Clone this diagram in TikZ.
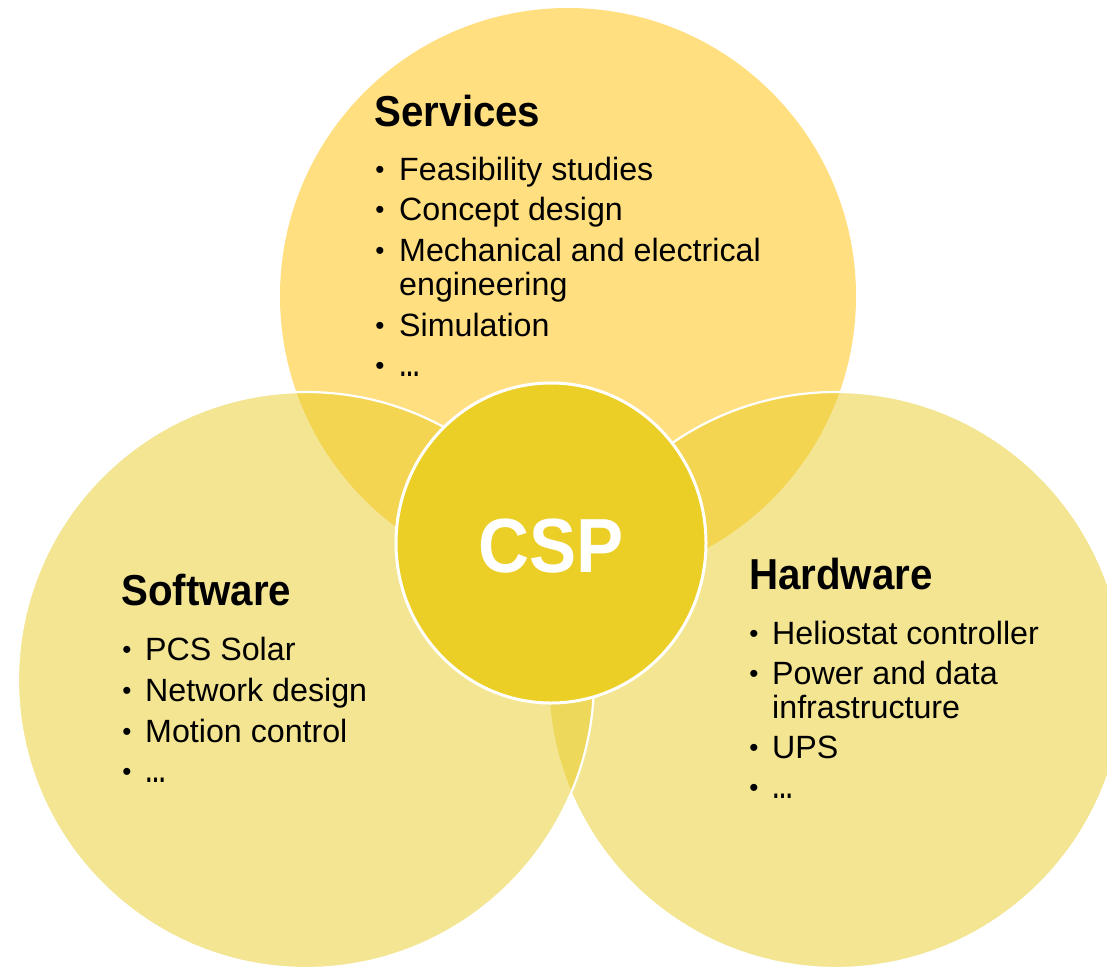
\documentclass[tikz,border=0pt]{standalone}
\usepackage{fontspec}
\setmainfont{Liberation Sans}
\newfontfamily\headfont{Liberation Sans}[FakeStretch=0.93]
\newfontfamily\cspfont{Liberation Sans}[FakeStretch=0.92]
\newfontfamily\dotsfont{Liberation Sans}[FakeStretch=0.7]
\usetikzlibrary{shapes.geometric}

\definecolor{servicecol}{HTML}{FFC000}
\definecolor{partcol}{HTML}{E9CD27}
\definecolor{cspcol}{HTML}{EBCF27}

\tikzset{
  venn/.style={circle, inner sep=0pt, minimum size=576pt, fill opacity=0.5},
  vennline/.style={draw=white, draw opacity=1, line width=2.2pt},
  head/.style={anchor=base west, inner sep=0pt,
    font=\headfont\bfseries\fontsize{43.3}{43.3}\selectfont},
  item/.style={anchor=base west, inner sep=0pt,
    font=\fontsize{32.2}{32.2}\selectfont},
  more/.style={anchor=base west, inner sep=0pt,
    font=\dotsfont\bfseries\fontsize{30}{30}\selectfont},
  dotmark/.style={anchor=base, inner sep=0pt,
    font=\fontsize{26}{26}\selectfont},
}

\begin{document}
\begin{tikzpicture}[x=1pt, y=-1pt]
\useasboundingbox (0,0) rectangle (1107,967);
\fill[white] (0,0) rectangle (1107,967);

% the three overlapping areas
\node[venn, fill=servicecol] (services) at (568,296) {};
\node[venn, vennline, fill=partcol] (hardware) at (836,680) {};
\node[venn, vennline, fill=partcol] (software) at (306,680) {};

% centre disc
\node[ellipse, inner sep=0pt, minimum width=310pt, minimum height=320pt,
      fill=cspcol, draw=white, line width=3pt] (csp) at (551,543) {};
\node[anchor=base, inner sep=0pt, text=white,
      font=\cspfont\bfseries\fontsize{76.8}{76.8}\selectfont] (csplabel) at (551,572) {CSP};

% Services
\node[head] (svh) at (374.5,126.5) {Services};
\node[dotmark] (svb1) at (380,178.3) {•};
\node[item] (svt1) at (399,180) {Feasibility studies};
\node[dotmark] (svb2) at (380,218.8) {•};
\node[item] (svt2) at (399,220.5) {Concept design};
\node[dotmark] (svb3) at (380,259.3) {•};
\node[item] (svt3) at (399,261) {Mechanical and electrical};
\node[item] (svt3b) at (399,295) {engineering};
\node[dotmark] (svb4) at (380,334.3) {•};
\node[item] (svt4) at (399,336) {Simulation};
\node[dotmark] (svb5) at (380,374.8) {•};
\node[more] (svt5) at (399,376.5) {…};

% Software
\node[head] (swh) at (121,605) {Software};
\node[dotmark] (swb1) at (127,658.8) {•};
\node[item] (swt1) at (145,660.5) {PCS Solar};
\node[dotmark] (swb2) at (127,699.8) {•};
\node[item] (swt2) at (145,701.5) {Network design};
\node[dotmark] (swb3) at (127,740.3) {•};
\node[item] (swt3) at (145,742) {Motion control};
\node[dotmark] (swb4) at (127,780.8) {•};
\node[more] (swt4) at (145,782.5) {…};

% Hardware
\node[head] (hwh) at (749,589) {Hardware};
\node[dotmark] (hwb1) at (754,642.6) {•};
\node[item] (hwt1) at (772,644.3) {Heliostat controller};
\node[dotmark] (hwb2) at (754,682.6) {•};
\node[item] (hwt2) at (772,684.3) {Power and data};
\node[item] (hwt2b) at (772,718.3) {infrastructure};
\node[dotmark] (hwb3) at (754,756.6) {•};
\node[item] (hwt3) at (772,758.3) {UPS};
\node[dotmark] (hwb4) at (754,796.8) {•};
\node[more] (hwt4) at (772,798.5) {…};
\end{tikzpicture}
\end{document}
